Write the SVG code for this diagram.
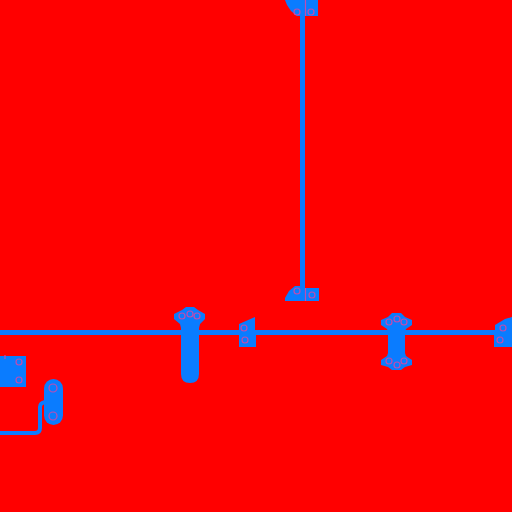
<svg xmlns="http://www.w3.org/2000/svg" width="512" height="512" viewBox="0 0 512 512">
<style>
.b{fill:#0a7cff}
.l{fill:none;stroke:#0a7cff}
.h{fill:none;stroke:#c04cb0;stroke-width:1.200}
</style>
<rect width="512" height="512" fill="#ff0000"/>
<g id="connectors">
<path class="l" stroke-width="5" d="M302.500 0V290"/>
<path class="l" stroke-width="5" d="M0 332.500H512"/>
<path class="l" stroke-width="4" d="M0 433H35Q40 433 40 428V407Q40 403 45 402"/>
</g>
<g id="top-bracket">
<path class="b" d="M285 0H305V16H297L291 11L287 5Z"/>
<rect class="b" x="306" y="0" width="12" height="16"/>
<path class="h" d="M305.500 0V16"/>
<circle class="h" cx="297" cy="12" r="3"/>
<circle class="h" cx="311" cy="12" r="3"/>
</g>
<g id="bottom-bracket">
<path class="b" d="M285 301V298L289 291L295 286H305V301Z"/>
<rect class="b" x="306" y="288" width="13" height="13"/>
<path class="h" d="M305.500 288V301"/>
<circle class="h" cx="297" cy="291" r="3"/>
<circle class="h" cx="312" cy="295" r="3"/>
</g>
<g id="t-post">
<path class="b" d="M174 314L182 310L186 307H194L198 310L205 314V319L200 324L199 328V374Q199 383 190 383Q181 383 181 374V328L180 324L174 319Z"/>
<circle class="h" cx="182" cy="316" r="3"/>
<circle class="h" cx="190" cy="314" r="3"/>
<circle class="h" cx="197" cy="316" r="3"/>
</g>
<g id="wedge">
<path class="b" d="M239 324L255 317V331H239Z"/>
<rect class="b" x="239" y="335" width="17" height="12"/>
<circle class="h" cx="244" cy="328" r="3"/>
<circle class="h" cx="245" cy="340" r="3"/>
</g>
<g id="double-post">
<path class="b" d="M381 320L388 317L392 313H401L405 317L412 320V325L406 329L405 332V353L406 356L412 360V365L405 367L401 370H392L388 367L381 365V360L387 356L388 353V332L387 329L381 325Z"/>
<circle class="h" cx="389" cy="322" r="3"/>
<circle class="h" cx="397" cy="319" r="3"/>
<circle class="h" cx="404" cy="322" r="3"/>
<circle class="h" cx="389" cy="361" r="3"/>
<circle class="h" cx="397" cy="365" r="3"/>
<circle class="h" cx="404" cy="361" r="3"/>
</g>
<g id="edge-wedge">
<path class="b" d="M495 331V325L505 319L512 317V331Z"/>
<rect class="b" x="494" y="335" width="18" height="12"/>
<circle class="h" cx="503" cy="328" r="3"/>
<circle class="h" cx="500" cy="340" r="3"/>
</g>
<g id="left-block">
<path class="b" d="M0 356H26V387H0Z"/>
<circle class="h" cx="19" cy="362" r="3"/>
<circle class="h" cx="19" cy="380" r="3"/>
<path class="h" d="M5 355V359"/>
</g>
<g id="pill">
<rect class="b" x="44" y="379" width="19" height="46" rx="9.500"/>
<circle class="h" cx="53" cy="388" r="4"/>
<circle class="h" cx="53" cy="416" r="4"/>
</g>
</svg>
